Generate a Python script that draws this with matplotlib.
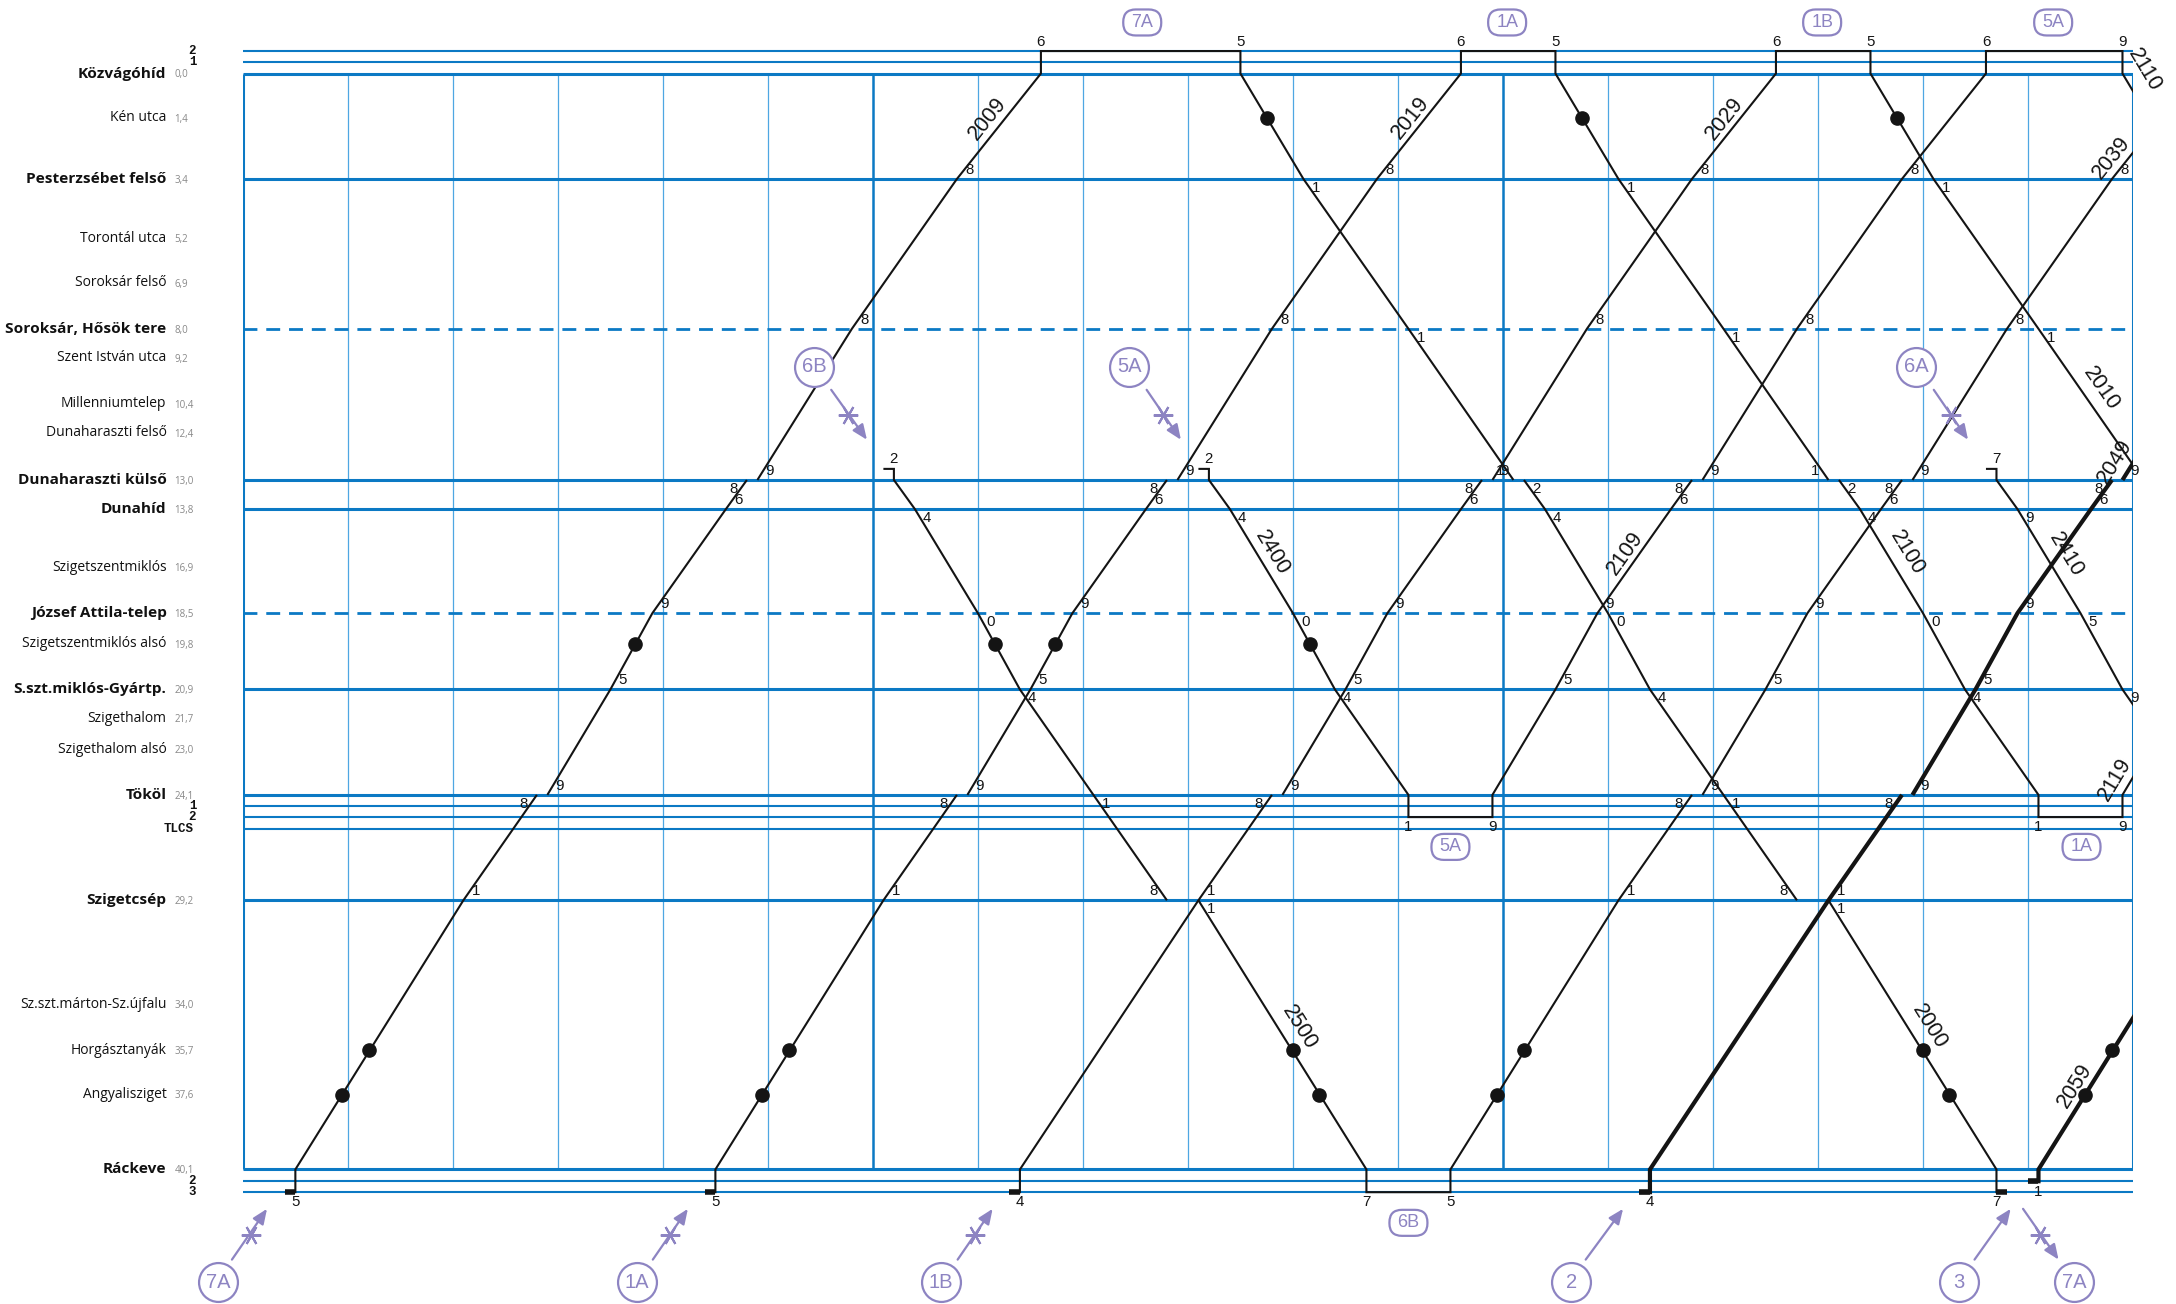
import math
import numpy as np
import matplotlib
matplotlib.use("Agg")
import matplotlib.pyplot as plt
from matplotlib import font_manager
from matplotlib.patches import FancyBboxPatch
from matplotlib.transforms import IdentityTransform

W, H, DPI = 2176, 1304, 100


def have(name):
    try:
        font_manager.findfont(font_manager.FontProperties(family=name), fallback_to_default=False)
        return True
    except Exception:
        return False


NARROW = 'Liberation Sans Narrow' if have('Liberation Sans Narrow') else 'Liberation Sans'
SANS = 'Liberation Sans'
NAMEFONT = 'Open Sans' if have('Open Sans') else 'DejaVu Sans'
MONO = 'Liberation Mono'

# ---------------- data ----------------
# stations (ordinate = running-time scaled position on the graph)
station_keys = ["KV", "KEN", "PF", "TOR", "SF", "SHT", "SZI", "MIL", "DHF", "DHK", "DHID", "SZM",
                "JAT", "SZA", "GY", "SZH", "SZHA", "TOK", "SZC", "SZU", "HOR", "ANG", "RK"]
station_names = ["Közvágóhíd", "Kén utca", "Pesterzsébet felső", "Torontál utca", "Soroksár felső",
                 "Soroksár, Hősök tere", "Szent István utca", "Millenniumtelep", "Dunaharaszti felső",
                 "Dunaharaszti külső", "Dunahíd", "Szigetszentmiklós", "József Attila-telep",
                 "Szigetszentmiklós alsó", "S.szt.miklós-Gyártp.", "Szigethalom", "Szigethalom alsó",
                 "Tököl", "Szigetcsép", "Sz.szt.márton-Sz.újfalu", "Horgásztanyák", "Angyalisziget", "Ráckeve"]
station_km = ["0,0", "1,4", "3,4", "5,2", "6,9", "8,0", "9,2", "10,4", "12,4", "13,0", "13,8", "16,9",
              "18,5", "19,8", "20,9", "21,7", "23,0", "24,1", "29,2", "34,0", "35,7", "37,6", "40,1"]
station_ord = [0, 32, 76, 119, 151, 184, 205, 238, 259, 293, 314, 356,
               389, 411, 444, 465, 487, 520, 596, 671, 704, 736, 790]
main_stations = ["KV", "PF", "SHT", "DHK", "DHID", "JAT", "GY", "TOK", "SZC", "RK"]
dashed_stations = ["SHT", "JAT"]

# station tracks
track_keys = ["KV2", "KV1", "TOK1", "TOK2", "TLCS", "RK2", "RK3"]
track_names = ["2", "1", "1", "2", "TLCS", "2", "3"]
track_ord = [-16.2, -8.2, 528, 536, 544.5, 798.5, 806.4]
stub_keys = ["DHKS"]
stub_ord = [285]

# vehicle circulations: (station/track, minute from chart start)
run_7A = [("RK3", 4), ("RK3", 5), ("RK", 5), ("SZC", 21), ("TOK", 28), ("TOK", 29), ("GY", 35),
          ("JAT", 39), ("DHID", 46), ("DHK", 48), ("DHK", 49), ("SHT", 58), ("PF", 68), ("KV", 76),
          ("KV2", 76), ("KV2", 95), ("KV", 95), ("PF", 101), ("SHT", 111), ("DHK", 121), ("DHK", 122),
          ("DHID", 124), ("JAT", 130), ("GY", 134), ("TOK", 141), ("SZC", 148), ("SZC", 151),
          ("RK", 167), ("RK3", 167), ("RK3", 168)]
run_1A = [("RK3", 44), ("RK3", 45), ("RK", 45), ("SZC", 61), ("TOK", 68), ("TOK", 69), ("GY", 75),
          ("JAT", 79), ("DHID", 86), ("DHK", 88), ("DHK", 89), ("SHT", 98), ("PF", 108), ("KV", 116),
          ("KV2", 116), ("KV2", 125), ("KV", 125), ("PF", 131), ("SHT", 141), ("DHK", 151), ("DHK", 152),
          ("DHID", 154), ("JAT", 160), ("GY", 164), ("TOK", 171), ("TOK2", 171), ("TOK2", 179),
          ("TOK", 179), ("GY", 185)]
run_1B = [("RK3", 73), ("RK3", 74), ("RK", 74), ("SZC", 91), ("TOK", 98), ("TOK", 99), ("GY", 105),
          ("JAT", 109), ("DHID", 116), ("DHK", 118), ("DHK", 119), ("SHT", 128), ("PF", 138), ("KV", 146),
          ("KV2", 146), ("KV2", 155), ("KV", 155), ("PF", 161), ("SHT", 171), ("DHK", 181)]
run_6B = [("DHKS", 61), ("DHKS", 62), ("DHK", 62), ("DHID", 64), ("JAT", 70), ("GY", 74), ("TOK", 81),
          ("SZC", 88), ("SZC", 91), ("RK", 107), ("RK3", 107), ("RK3", 115), ("RK", 115), ("SZC", 131),
          ("TOK", 138), ("TOK", 139), ("GY", 145), ("JAT", 149), ("DHID", 156), ("DHK", 158),
          ("DHK", 159), ("SHT", 168), ("PF", 178), ("KV", 186)]
run_5A = [("DHKS", 91), ("DHKS", 92), ("DHK", 92), ("DHID", 94), ("JAT", 100), ("GY", 104), ("TOK", 111),
          ("TOK2", 111), ("TOK2", 119), ("TOK", 119), ("GY", 125), ("JAT", 129), ("DHID", 136),
          ("DHK", 138), ("DHK", 139), ("SHT", 148), ("PF", 158), ("KV", 166), ("KV2", 166), ("KV2", 179),
          ("KV", 179), ("PF", 185)]
run_6A = [("DHKS", 166), ("DHKS", 167), ("DHK", 167), ("DHID", 169), ("JAT", 175), ("GY", 179), ("TOK", 186)]
run_2 = [("RK3", 133), ("RK3", 134), ("RK", 134), ("SZC", 151), ("TOK", 158), ("TOK", 159), ("GY", 165),
         ("JAT", 169), ("DHID", 176), ("DHK", 178), ("DHK", 179), ("SHT", 188)]
run_3 = [("RK2", 170), ("RK2", 171), ("RK", 171), ("SZC", 187)]

runs = [run_7A, run_1A, run_1B, run_6B, run_5A, run_6A, run_2, run_3]
run_thick = [False, False, False, False, False, False, True, True]

# stops marked with a dot (station, minute)
dots_7A = [("ANG", 9.4), ("HOR", 12.0), ("SZA", 37.3), ("KEN", 97.5), ("HOR", 160.0), ("ANG", 162.5)]
dots_1A = [("ANG", 49.4), ("HOR", 52.0), ("SZA", 77.3), ("KEN", 127.5)]
dots_1B = [("KEN", 157.5)]
dots_6B = [("SZA", 71.6), ("HOR", 100.0), ("ANG", 102.5), ("ANG", 119.4), ("HOR", 122.0)]
dots_5A = [("SZA", 101.6)]
dots_3 = [("ANG", 175.4), ("HOR", 178.0)]
all_dots = dots_7A + dots_1A + dots_1B + dots_6B + dots_5A + dots_3

# train numbers: text, label centre (minute, ordinate), circulation index
train_numbers = ["2009", "2019", "2029", "2039", "2049", "2059", "2109", "2119",
                 "2000", "2010", "2100", "2110", "2400", "2410", "2500"]
train_num_t = [70.9, 111.2, 141.1, 178.0, 178.3, 174.5, 131.6, 178.3,
               160.6, 177.0, 158.5, 181.1, 98.0, 173.6, 100.6]
train_num_y = [32.3, 32.3, 32.3, 61.0, 279.7, 730.0, 345.7, 509.0,
               686.8, 226.8, 345.7, -2.6, 345.7, 346.9, 687.4]
train_num_run = [0, 1, 2, 3, 6, 7, 4, 1, 0, 2, 1, 4, 4, 5, 3]

# vehicle (circulation) markers
pill_text = ["7A", "1A", "1B", "5A", "5A", "1A", "6B"]
pill_t = [85.65, 120.4, 150.4, 172.4, 115.0, 175.1, 111.0]
pill_y = [-36.8, -36.8, -36.8, -36.8, 557.5, 557.5, 828.5]

circle_text = ["7A", "1A", "1B", "2", "3", "7A", "6B", "5A", "6A"]
circle_t = [-2.38, 37.52, 66.47, 126.52, 163.43, 174.4, 54.38, 84.43, 159.38]
circle_y = [871.5, 871.5, 871.5, 871.5, 871.5, 871.5, 211.2, 211.2, 211.2]

arrow_from_t = [-1.04, 39.04, 68.07, 127.88, 164.91, 169.53, 56.03, 86.07, 161.03]
arrow_from_y = [855, 855, 855, 855, 855, 818.4, 228, 228, 228]
arrow_to_t = [2.30, 42.38, 71.40, 131.44, 168.35, 172.91, 59.43, 89.33, 164.29]
arrow_to_y = [818.4, 818.4, 818.4, 818.4, 818.4, 855, 264, 264, 264]
cross_t = [0.78, 40.72, 69.71, 171.13, 57.67, 87.61, 162.65]
cross_y = [837, 837, 837, 837, 246, 246, 246]

# ---------------- drawing ----------------
BLUE = '#0b79c4'
LBLUE = '#4ea7e2'
PURPLE = '#8d84c2'
INK = '#141414'

ORD = dict(zip(station_keys, station_ord))
ORD.update(dict(zip(track_keys, track_ord)))
ORD.update(dict(zip(stub_keys, stub_ord)))
MAIN = set(main_stations)
TRACKS = set(track_keys) | set(stub_keys)

fig = plt.figure(figsize=(W / DPI, H / DPI), dpi=DPI)
fig.patch.set_facecolor('white')
ax = fig.add_axes([175 / 1568, 0, 1362 / 1568, 1])
ax.set_xlim(0, 180)
ax.set_ylim(887, -53)
ax.axis('off')

RK_Y = ORD["RK"]
# vertical grid
for t in range(0, 181, 10):
    if t in (0, 180):
        ax.vlines(t, 0, RK_Y, color=BLUE, lw=2.2, zorder=3)
    elif t % 60 == 0:
        ax.vlines(t, 0, RK_Y, color=BLUE, lw=1.8, zorder=2)
    else:
        ax.vlines(t, 0, RK_Y, color=LBLUE, lw=0.9, zorder=1)

# station lines
for k in main_stations:
    if k in dashed_stations:
        ax.hlines(ORD[k], 0, 180, color=BLUE, lw=2.0, linestyles=(0, (5, 3.2)), zorder=3)
    else:
        ax.hlines(ORD[k], 0, 180, color=BLUE, lw=2.2, zorder=3)
for k in track_keys:
    ax.hlines(ORD[k], 0, 180, color=BLUE, lw=1.5, zorder=3)

# station labels
for k, name, km in zip(station_keys, station_names, station_km):
    bold = k in MAIN
    ax.text(-7.27, ORD[k], name, ha='right', va='center', fontsize=11.1 if bold else 10.0,
            fontweight='bold' if bold else 'normal', family=NAMEFONT, color='#111111')
    ax.text(-6.5, ORD[k] + 1, km, ha='left', va='center', fontsize=7.0, family=NAMEFONT, color='#888888')
for k, nm in zip(track_keys, track_names):
    ax.text(-4.8 if nm != "TLCS" else -6.1, ORD[k], nm, ha='center', va='center',
            fontsize=9 if nm != "TLCS" else 9,
            fontweight='bold', family=MONO, color='#111111')


def run_xy(run):
    ts, ys = [], []
    for i, (k, t) in enumerate(run):
        if i > 0 and run[i - 1][0] == k and k in MAIN:
            ts.append(np.nan)
            ys.append(np.nan)
        ts.append(t)
        ys.append(ORD[k])
    return ts, ys


for run, thick in zip(runs, run_thick):
    ts, ys = run_xy(run)
    ax.plot(ts, ys, color=INK, lw=3.0 if thick else 1.5, zorder=5, solid_capstyle='butt',
            solid_joinstyle='miter')
    # short departure / arrival bars on Ráckeve tracks
    for i in range(len(run) - 1):
        (k1, t1), (k2, t2) = run[i], run[i + 1]
        if k1 == k2 and k1 in ("RK2", "RK3") and abs(t2 - t1) <= 1:
            ax.plot([t1, t2], [ORD[k1], ORD[k1]], color=INK, lw=4.0, zorder=5, solid_capstyle='butt')

# dots
ax.plot([d[1] for d in all_dots], [ORD[d[0]] for d in all_dots], 'o', ms=9.5, color=INK, zorder=6)


# minute labels
def minute_labels(run):
    n = len(run)
    for i, (k, t) in enumerate(run):
        if t > 180:
            continue
        prev = run[i - 1] if i > 0 else None
        nxt = run[i + 1] if i < n - 1 else None
        txt = str(int(round(t)) % 10)
        if k in TRACKS:
            linked = (prev is not None and prev[0] in MAIN and prev[1] == t) or \
                     (nxt is not None and nxt[0] in MAIN and nxt[1] == t)
            if not linked:
                continue
            off = (0, 6.8) if k in ("KV2", "DHKS") else (0, -7.4)
        elif k in MAIN:
            if (prev is not None and prev[1] == t and prev[0] in TRACKS) or \
               (nxt is not None and nxt[1] == t and nxt[0] in TRACKS):
                continue
            arriving = nxt is not None and nxt[0] == k
            if arriving:
                up = ORD[prev[0]] > ORD[k]
                off = (-9.5, -6.5) if up else (-9.5, 6.5)
            else:
                if nxt is not None:
                    up = ORD[nxt[0]] < ORD[k]
                else:
                    up = ORD[prev[0]] > ORD[k]
                off = (8.8, 6.5) if up else (8.8, -6.5)
        else:
            continue
        ax.annotate(txt, (t, ORD[k]), xytext=off, textcoords='offset points', ha='center', va='center',
                    fontsize=10.8, family=NARROW, color=INK, zorder=7, annotation_clip=False)


for run in runs:
    minute_labels(run)

# train numbers along their lines
fig.canvas.draw()
for txt, lt, ly, ri in zip(train_numbers, train_num_t, train_num_y, train_num_run):
    run = runs[ri]
    pc = ax.transData.transform((lt, ly))
    best, best_ang = None, 0
    for i in range(len(run) - 1):
        (k1, t1), (k2, t2) = run[i], run[i + 1]
        y1, y2 = ORD[k1], ORD[k2]
        if t1 == t2 or y1 == y2:
            continue
        p1 = ax.transData.transform((t1, y1))
        p2 = ax.transData.transform((t2, y2))
        d = p2 - p1
        L = np.hypot(*d)
        u = np.clip(np.dot(pc - p1, d) / (L * L), 0, 1)
        dist = np.hypot(*(p1 + u * d - pc))
        if best is None or dist < best:
            best = dist
            ang = math.degrees(math.atan2(d[1], d[0]))
            if ang > 90:
                ang -= 180
            if ang < -90:
                ang += 180
            best_ang = ang
    ax.text(lt, ly, txt, rotation=best_ang, rotation_mode='anchor', ha='center', va='center',
            fontsize=15.5, family=SANS, color=INK, zorder=7)

# vehicle markers: pills
for txt, pt, py in zip(pill_text, pill_t, pill_y):
    cx, cy = ax.transData.transform((pt, py))
    w, h = 38, 26
    patch = FancyBboxPatch((cx - w / 2, cy - h / 2), w, h,
                           boxstyle="round,pad=0,rounding_size=%f" % (h / 2 - 0.5),
                           transform=IdentityTransform(), fc='white', ec=PURPLE, lw=1.6, zorder=8,
                           clip_on=False)
    fig.add_artist(patch)
    fig.text(cx / W, cy / H, txt, ha='center', va='center', fontsize=13, family=NARROW,
             color=PURPLE, zorder=9)

# circles
for txt, ct, cy in zip(circle_text, circle_t, circle_y):
    ax.plot([ct], [cy], 'o', ms=28, mfc='white', mec=PURPLE, mew=1.6, zorder=8, clip_on=False)
    ax.text(ct, cy, txt, ha='center', va='center', fontsize=14.5, family=NARROW, color=PURPLE, zorder=9)

# arrows
for t0, y0, t1, y1 in zip(arrow_from_t, arrow_from_y, arrow_to_t, arrow_to_y):
    ax.annotate('', xy=(t1, y1), xytext=(t0, y0),
                arrowprops=dict(arrowstyle='-|>,head_length=0.9,head_width=0.38', color=PURPLE, lw=1.6,
                                shrinkA=0, shrinkB=0), annotation_clip=False, zorder=8)
for ct, cy in zip(cross_t, cross_y):
    ax.plot([ct], [cy], marker=(6, 2, 90), ms=14, mew=1.5, color=PURPLE, mec=PURPLE, zorder=8, clip_on=False)

fig.savefig('out.png', dpi=DPI, facecolor='white')
